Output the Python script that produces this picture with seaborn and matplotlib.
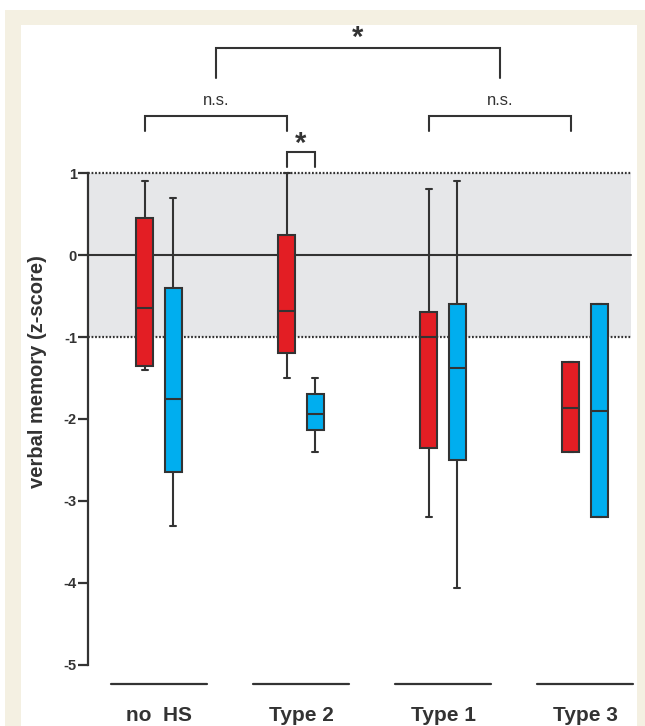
import numpy as np
import pandas as pd
import seaborn as sns
import matplotlib.pyplot as plt
from matplotlib.patches import Rectangle

# groups and five-number summaries
groups = ["no  HS", "Type 2", "Type 1", "Type 3"]
series = ["A", "B"]

red_low = [-1.40, -1.50, -3.20, -2.40]
red_q1 = [-1.35, -1.19, -2.35, -2.40]
red_med = [-0.65, -0.68, -1.00, -1.86]
red_q3 = [0.45, 0.25, -0.69, -1.30]
red_high = [0.90, 1.00, 0.80, -1.30]

blue_low = [-3.30, -2.40, -4.06, -3.20]
blue_q1 = [-2.65, -2.13, -2.50, -3.20]
blue_med = [-1.75, -1.94, -1.38, -1.90]
blue_q3 = [-0.40, -1.70, -0.60, -0.60]
blue_high = [0.70, -1.50, 0.90, -0.60]

ytick_vals = [-5, -4, -3, -2, -1, 0, 1]
ytick_labels = ["-5", "-4", "-3", "-2", "-1", "0", "1"]

# long table: five points per box give exactly those quartiles
rows = []
for i, g in enumerate(groups):
    for v in [red_low[i], red_q1[i], red_med[i], red_q3[i], red_high[i]]:
        rows.append((g, "A", v))
    for v in [blue_low[i], blue_q1[i], blue_med[i], blue_q3[i], blue_high[i]]:
        rows.append((g, "B", v))
df = pd.DataFrame(rows, columns=["group", "series", "z"])

sns.set_style("ticks")
plt.rcParams["font.family"] = ["Liberation Sans", "DejaVu Sans"]

dark = "#333333"
red = "#e31e24"
blue = "#00aeef"
band = "#e6e7e9"

fig = plt.figure(figsize=(6.45, 7.26), dpi=100, facecolor="white")
fig.patches.append(Rectangle((5 / 645, 0), 1, (726 - 10) / 726, transform=fig.transFigure,
                             facecolor="#f4f0e2", edgecolor="none", zorder=-2))
fig.patches.append(Rectangle((21 / 645, 0), (637 - 21) / 645, (726 - 25) / 726,
                             transform=fig.transFigure, facecolor="white",
                             edgecolor="none", zorder=-1))

ax = fig.add_axes([88 / 645, 0, (637 - 88) / 645, (726 - 25) / 726])
ax.set_facecolor("none")

sns.boxplot(data=df, x="group", y="z", hue="series", order=groups, hue_order=series,
            palette={"A": red, "B": blue}, saturation=1, width=0.4, gap=0.4,
            whis=(0, 100), linecolor=dark, linewidth=1.5, legend=False,
            capwidths=0.045, ax=ax, zorder=3)

band_right = 3.324
ax.fill_between([-0.5, band_right], -1, 1, color=band, zorder=0, linewidth=0)
ax.plot([-0.5, band_right], [0, 0], color=dark, lw=1.5, zorder=1)
for yy in (-1, 1):
    ax.plot([-0.5, band_right], [yy, yy], color=dark, lw=1.6, ls=(0, (0.8, 0.8)), zorder=1)

ax.set_xlim(-0.5, 3.366)
ax.set_ylim(-5.744, 2.805)

sns.despine(ax=ax, bottom=True)
ax.spines["left"].set_bounds(-5, 1)
ax.spines["left"].set_color(dark)
ax.spines["left"].set_linewidth(1.6)
ax.set_xticks([])
ax.set_yticks(ytick_vals)
ax.set_yticklabels(ytick_labels, fontsize=10.5, fontweight="bold", color=dark)
ax.tick_params(axis="y", length=7, width=1.6, color=dark, pad=1)
ax.set_xlabel("")
ax.set_ylabel("verbal memory (z-score)", fontsize=14.5, fontweight="bold", color=dark)
ax.yaxis.set_label_coords(-0.074, 0.505)

# group lines and labels under the plot
for i, g in enumerate(groups):
    ax.plot([i - 0.338, i + 0.338], [-5.23, -5.23], color=dark, lw=1.6, clip_on=False)
    ax.text(i, -5.61, g, ha="center", va="center", fontsize=15, fontweight="bold", color=dark)

# significance brackets
brackets = [
    (0.4, 2.4, 2.52, 2.16, "*", 2.65, 21),
    (-0.1, 0.9, 1.70, 1.516, "n.s.", 1.89, 12),
    (1.9, 2.9, 1.70, 1.516, "n.s.", 1.89, 12),
    (0.9, 1.1, 1.26, 1.077, "*", 1.35, 21),
]
for x1, x2, ytop, yleg, label, ty, fs in brackets:
    ax.plot([x1, x1, x2, x2], [yleg, ytop, ytop, yleg], color=dark, lw=1.5,
            solid_joinstyle="miter", clip_on=False)
    ax.text((x1 + x2) / 2, ty, label, ha="center", va="center", fontsize=fs,
            fontweight="bold" if label == "*" else "normal", color=dark)

fig.savefig("out.png", dpi=100)
